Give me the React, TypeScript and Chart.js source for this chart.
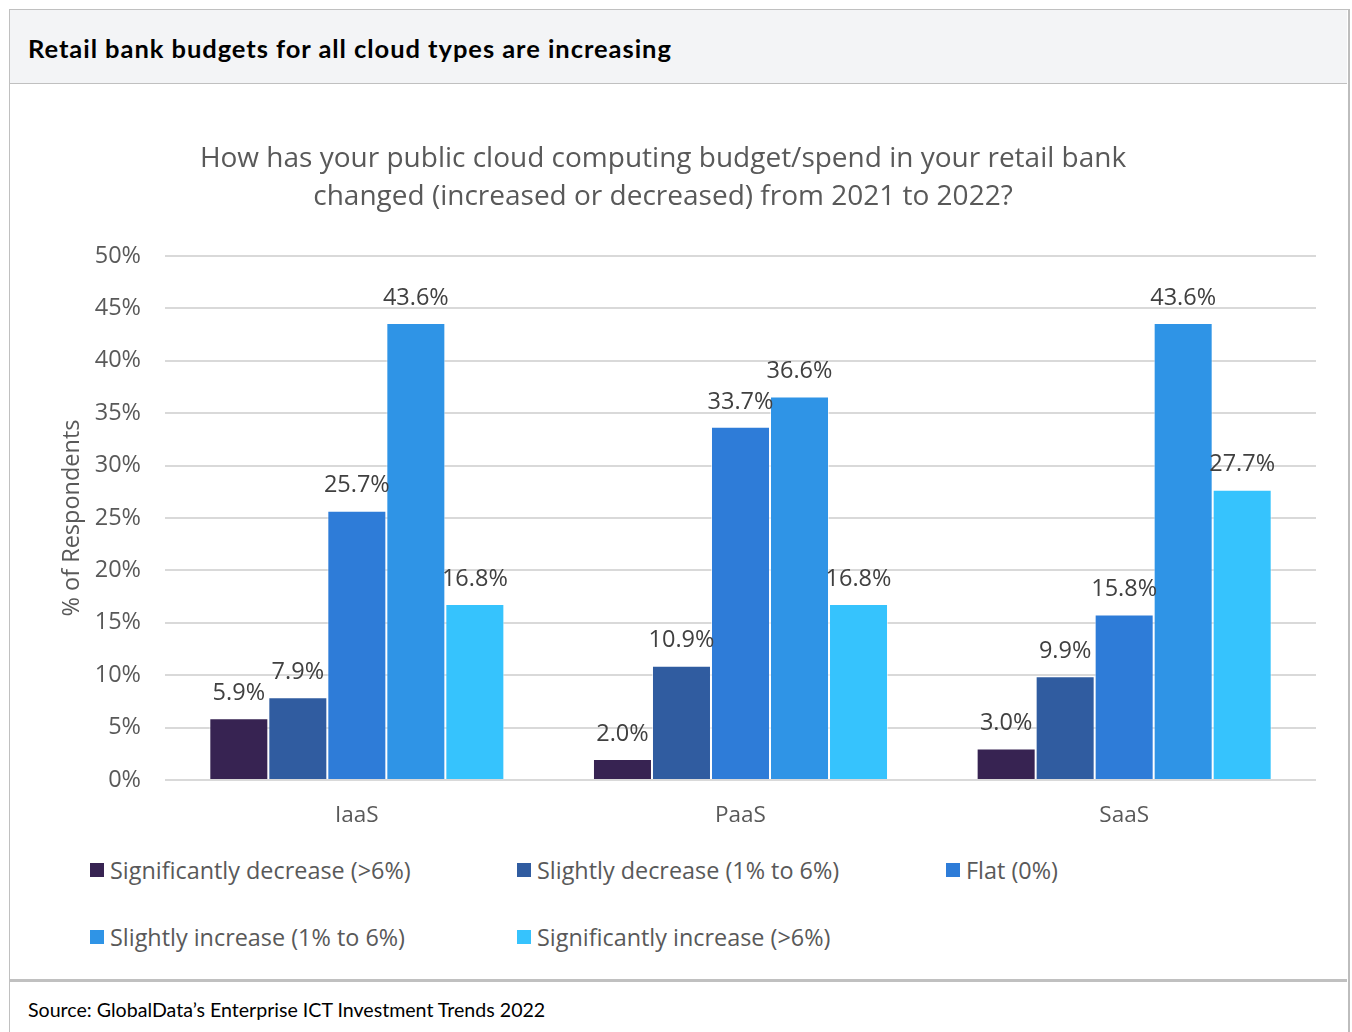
import React, { useEffect, useRef } from "react";
import { Chart, registerables } from "chart.js";

Chart.register(...registerables);

const categories = ["IaaS", "PaaS", "SaaS"];
const seriesNames = [
  "Significantly decrease (>6%)",
  "Slightly decrease (1% to 6%)",
  "Flat (0%)",
  "Slightly increase (1% to 6%)",
  "Significantly increase (>6%)",
];
const sigDecrease = [5.9, 2.0, 3.0];
const slightDecrease = [7.9, 10.9, 9.9];
const flat = [25.7, 33.7, 15.8];
const slightIncrease = [43.6, 36.6, 43.6];
const sigIncrease = [16.8, 16.8, 27.7];
const seriesColors = ["#372352", "#305ca0", "#2e7cd8", "#2f94e6", "#36c3fd"];
const yTicks = [0, 5, 10, 15, 20, 25, 30, 35, 40, 45, 50];

const chartTitle = [
  "How has your public cloud computing budget/spend in your retail bank",
  "changed (increased or decreased) from 2021 to 2022?",
];
const headerText = "Retail bank budgets for all cloud types are increasing";
const sourceText = "Source: GlobalData\u2019s Enterprise ICT Investment Trends 2022";

const FONT = "'Open Sans', 'Noto Sans', sans-serif";

const valueLabels = {
  id: "valueLabels",
  afterDatasetsDraw(chart: any) {
    const ctx = chart.ctx;
    ctx.save();
    ctx.font = `23.5px ${FONT}`;
    ctx.fillStyle = "#404040";
    ctx.textAlign = "center";
    ctx.textBaseline = "middle";
    chart.data.datasets.forEach((ds: any, i: number) => {
      const meta = chart.getDatasetMeta(i);
      meta.data.forEach((bar: any, j: number) => {
        const v = ds.data[j] as number;
        ctx.fillText(v.toFixed(1) + "%", bar.x, bar.y - 25);
      });
    });
    ctx.restore();
  },
};

export default function App() {
  const ref = useRef<HTMLCanvasElement | null>(null);

  useEffect(() => {
    document.body.style.margin = "0";
    const all = [sigDecrease, slightDecrease, flat, slightIncrease, sigIncrease];
    const chart = new Chart(ref.current as HTMLCanvasElement, {
      type: "bar",
      data: {
        labels: categories,
        datasets: all.map((d, i) => ({
          label: seriesNames[i],
          data: d,
          backgroundColor: seriesColors[i],
          borderColor: "rgba(255,255,255,0.6)",
          borderWidth: 1,
          borderSkipped: "bottom",
          barPercentage: 1,
          categoryPercentage: 0.769,
        })),
      },
      options: {
        responsive: false,
        animation: false,
        devicePixelRatio: 1,
        layout: { padding: { left: 0, right: 32, top: 0, bottom: 0 } },
        plugins: {
          legend: { display: false },
          tooltip: { enabled: false },
          title: {
            display: true,
            text: chartTitle,
            color: "#595959",
            font: { family: FONT, size: 28, weight: "normal", lineHeight: 1.357 },
            padding: { top: 56, bottom: 40 },
          },
        },
        scales: {
          x: {
            grid: { display: false, drawTicks: false },
            border: { display: false },
            ticks: {
              color: "#595959",
              font: { family: FONT, size: 22.5 },
              padding: 22,
            },
            afterFit: (s: any) => {
              s.height = 60;
            },
          },
          y: {
            min: 0,
            max: 50,
            afterBuildTicks: (s: any) => {
              s.ticks = yTicks.map((v) => ({ value: v }));
            },
            grid: { color: "#d9d9d9", lineWidth: 2, drawTicks: false },
            border: { display: false },
            ticks: {
              color: "#595959",
              font: { family: FONT, size: 23.5 },
              padding: 24,
              callback: (v: any) => v + "%",
            },
            title: {
              display: true,
              text: "% of Respondents",
              color: "#595959",
              font: { family: FONT, size: 23.5, weight: "normal" },
              padding: { top: 48, bottom: 0 },
            },
            afterFit: (s: any) => {
              s.width = 155;
            },
          },
        },
      },
      plugins: [valueLabels],
    });
    return () => chart.destroy();
  }, []);

  const legendPos = [
    { x: 90, y: 870 },
    { x: 517, y: 870 },
    { x: 946, y: 870 },
    { x: 90, y: 937 },
    { x: 517, y: 937 },
  ];

  return (
    <div style={{ position: "relative", width: 1352, height: 1032, overflow: "hidden", background: "#fff" }}>
      <div
        style={{
          position: "absolute",
          left: 9,
          top: 9,
          width: 1338,
          height: 1100,
          border: "1px solid #c0c0c0",
          borderRight: "2px solid #bdbdbd",
        }}
      />
      <div
        style={{
          position: "absolute",
          left: 10,
          top: 10,
          width: 1337,
          height: 73,
          background: "#f3f4f6",
          borderBottom: "1px solid #c0c0c0",
        }}
      />
      <div
        style={{
          position: "absolute",
          left: 28,
          top: 48,
          transform: "translateY(-50%)",
          font: `bold 25.5px Lato, sans-serif`,
          letterSpacing: "0.95px",
          color: "#000",
          whiteSpace: "nowrap",
        }}
      >
        {headerText}
      </div>
      <canvas
        ref={ref}
        width={1338}
        height={756}
        style={{ position: "absolute", left: 10, top: 84, width: 1338, height: 756 }}
      />
      {seriesNames.map((name, i) => (
        <div
          key={name}
          style={{
            position: "absolute",
            left: legendPos[i].x,
            top: legendPos[i].y,
            transform: "translateY(-50%)",
            display: "flex",
            alignItems: "center",
            whiteSpace: "nowrap",
            font: `23.4px ${FONT}`,
            color: "#595959",
          }}
        >
          <span
            style={{
              display: "inline-block",
              width: 14,
              height: 14,
              background: seriesColors[i],
              marginRight: 6,
            }}
          />
          {name}
        </div>
      ))}
      <div
        style={{
          position: "absolute",
          left: 10,
          top: 979,
          width: 1337,
          height: 0,
          borderTop: "3px solid #c0c0c0",
        }}
      />
      <div
        style={{
          position: "absolute",
          left: 28,
          top: 1009,
          transform: "translateY(-50%)",
          font: `19.6px Lato, sans-serif`,
          color: "#000",
          whiteSpace: "nowrap",
        }}
      >
        {sourceText}
      </div>
    </div>
  );
}
